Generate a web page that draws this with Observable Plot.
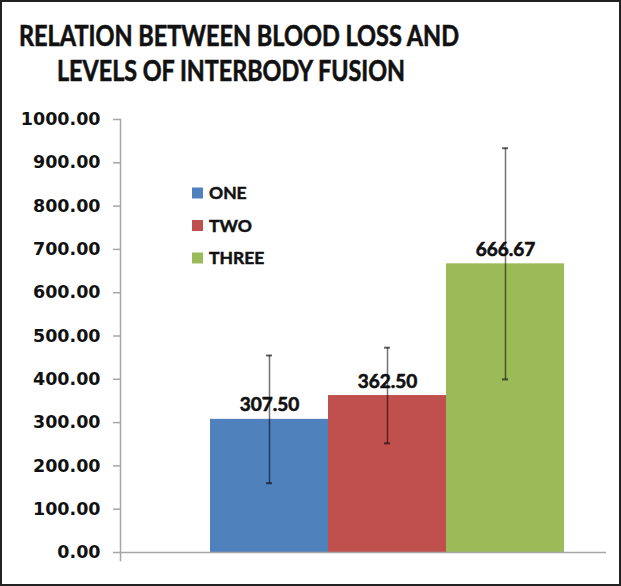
<!DOCTYPE html>
<html><head><meta charset="utf-8">
<script src="https://cdn.jsdelivr.net/npm/d3@7"></script>
<script src="https://cdn.jsdelivr.net/npm/@observablehq/plot@0.6"></script>
<style>
body{margin:0;background:#fff;}
#wrap{position:relative;width:621px;height:586px;overflow:hidden;font-family:Lato,"Open Sans",sans-serif;background:#fff;}
#chart{position:absolute;left:0;top:0;}
#border{position:absolute;left:0;top:0;width:621px;height:586px;box-sizing:border-box;border:2px solid #222;pointer-events:none;}
#overlay{position:absolute;left:0;top:0;pointer-events:none;}
</style></head><body>
<div id="wrap">
<div id="chart"></div>
<svg id="overlay" width="621" height="586" font-family="Lato, 'Open Sans', sans-serif"></svg>
<div id="border"></div>
</div>
<script>
const titleLines = ["RELATION BETWEEN BLOOD LOSS AND", "LEVELS OF INTERBODY FUSION"];
const categories = ["ONE", "TWO", "THREE"];
const means = [307.50, 362.50, 666.67];
const errors = [147.5, 110.5, 267.0];
const colors = ["#4F81BD", "#C0504D", "#9BBB59"];
const yTicks = [0, 100, 200, 300, 400, 500, 600, 700, 800, 900, 1000];

const data = categories.map((name, i) => ({name, value: means[i], err: errors[i]}));
const fmt = d3.format(".2f");

const chart = Plot.plot({
  width: 621, height: 586,
  marginTop: 119, marginBottom: 34, marginLeft: 120, marginRight: 15,
  style: {fontFamily: "Lato, 'Open Sans', sans-serif", background: "transparent", color: "#111"},
  x: {domain: categories, range: [209, 565], padding: 0, axis: null},
  y: {domain: [0, 1000], axis: null},
  color: {domain: categories, range: colors},
  marks: [
    Plot.frame({anchor: "left", stroke: "#a6a6a6", strokeWidth: 1.5, insetBottom: -8}),
    Plot.axisY({ticks: yTicks, tickFormat: fmt, tickSize: 7, tickPadding: 13, label: null,
      fontFamily: "'DejaVu Sans', sans-serif", fontWeight: "bold", fontSize: 17.5,
      fill: "#111", stroke: "#a6a6a6", strokeWidth: 1.5}),
    Plot.barY(data, {x: "name", y: "value", fill: "name"}),
    Plot.ruleY([0], {stroke: "#a6a6a6", strokeWidth: 1.5}),
    Plot.ruleX(data, {x: "name", y1: d => d.value - d.err, y2: d => d.value + d.err,
      stroke: "#000", strokeOpacity: 0.55, strokeWidth: 1.5}),
    Plot.tickY(data, {x: "name", y: d => d.value - d.err, insetLeft: 56, insetRight: 56,
      stroke: "#000", strokeOpacity: 0.6, strokeWidth: 2}),
    Plot.tickY(data, {x: "name", y: d => d.value + d.err, insetLeft: 56, insetRight: 56,
      stroke: "#000", strokeOpacity: 0.6, strokeWidth: 2}),
    Plot.text(data, {x: "name", y: "value", text: d => fmt(d.value), lineAnchor: "bottom", dy: -8,
      fontWeight: "bold", fontSize: 19, fill: "#111", stroke: "#111", strokeWidth: 0.6})
  ]
});
document.getElementById("chart").appendChild(chart);

// title and legend overlay
const ov = d3.select("#overlay");
const titleX = [19, 57], titleY = [46, 81], titleW = [440, 348];
titleLines.forEach((t, i) => {
  ov.append("text").attr("x", titleX[i]).attr("y", titleY[i])
    .attr("font-size", 28).attr("font-weight", 700).attr("fill", "#111")
    .attr("stroke", "#111").attr("stroke-width", 0.6)
    .attr("textLength", titleW[i]).attr("lengthAdjust", "spacingAndGlyphs").text(t);
});
const lg = ov.append("g");
categories.forEach((c, i) => {
  const cy = 193 + i * 32.5;
  lg.append("rect").attr("x", 192).attr("y", cy - 5.5).attr("width", 11).attr("height", 11).attr("fill", colors[i]);
  lg.append("text").attr("x", 209).attr("y", cy).attr("dy", "0.36em")
    .attr("font-size", 17.5).attr("font-weight", 700).attr("fill", "#111")
    .attr("stroke", "#111").attr("stroke-width", 0.5).text(c);
});
</script>
</body></html>
